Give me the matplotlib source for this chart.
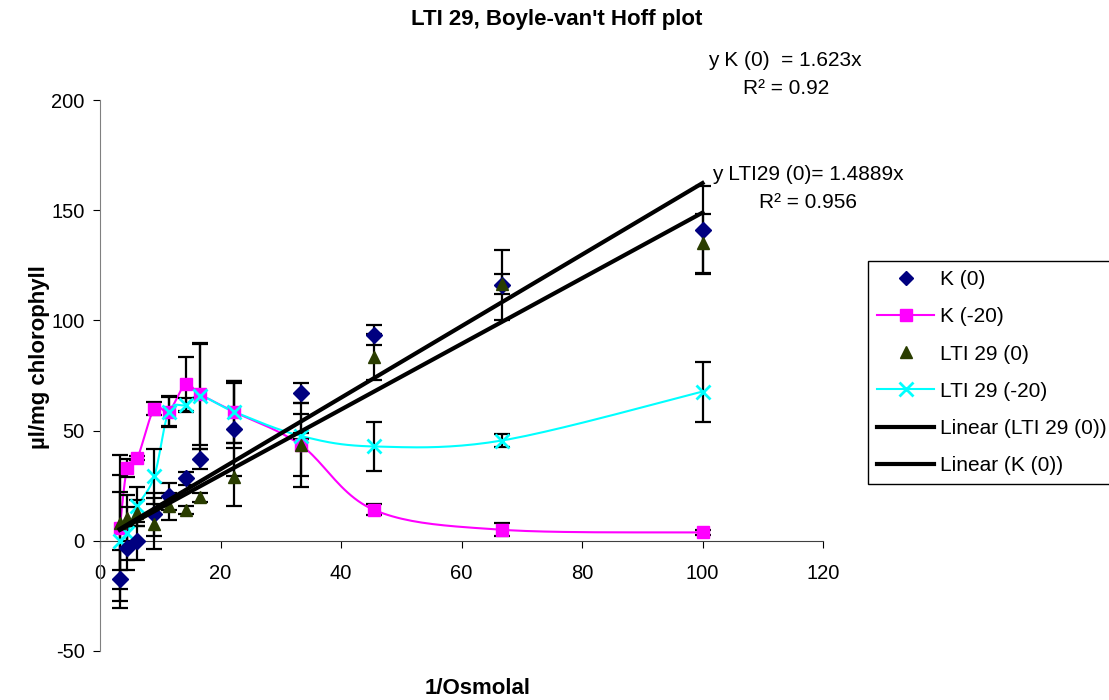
import numpy as np
import matplotlib
matplotlib.use("Agg")
import matplotlib.pyplot as plt
from matplotlib.lines import Line2D

plt.rcParams['font.family'] = ['Liberation Sans', 'DejaVu Sans']
plt.rcParams['axes.unicode_minus'] = False

# 1/osmolal values shared by all series
x = [3.3, 4.5, 6.2, 9.0, 11.4, 14.2, 16.6, 22.2, 33.3, 45.5, 66.7, 100.0]

k0 = [-17.4, -3.3, 0.0, 12.0, 20.1, 28.4, 37.0, 50.6, 67.0, 93.5, 116.0, 141.0]
k0_err = [13, 10, 8.6, 9.6, 6, 3, 4.5, 21, 4.5, 4.5, 16, 20]

k20 = [5.9, 33.0, 37.5, 60.0, 58.6, 71.0, 66.5, 58.6, 43.5, 14.0, 5.0, 3.8]
k20_err = [33, 4, 1, 3, 6.6, 12.6, 23, 14, 19, 2.5, 3, 1]

lti0 = [8.3, 10.3, 12.5, 7.7, 15.6, 14.0, 19.8, 28.9, 43.5, 83.4, 116.5, 135.0]
lti0_err = [21.7, 10.6, 6, 11.5, 6, 2, 2, 13.3, 14, 10.5, 4.5, 13.5]

lti20 = [0.0, 3.5, 15.6, 29.2, 58.6, 61.7, 65.8, 58.6, 47.6, 42.8, 45.5, 67.7]
lti20_err = [22, 12, 9, 12.4, 7, 3, 24, 14, 1.5, 11, 3, 13.6]

# trendlines forced through the origin
slope_k0 = 1.623
r2_k0 = 0.92
slope_lti0 = 1.4889
r2_lti0 = 0.956


def smooth(ax, xs, ys, n=24):
    # Catmull-Rom curve built in screen space, mapped back to data
    pts = ax.transData.transform(np.column_stack([xs, ys]))
    out = [pts[0]]
    for i in range(len(pts) - 1):
        p0 = pts[i - 1] if i > 0 else pts[i]
        p1, p2 = pts[i], pts[i + 1]
        p3 = pts[i + 2] if i + 2 < len(pts) else pts[i + 1]
        c1 = p1 + (p2 - p0) / 6
        c2 = p2 - (p3 - p1) / 6
        t = np.linspace(0, 1, n)[1:, None]
        seg = ((1 - t) ** 3 * p1 + 3 * (1 - t) ** 2 * t * c1
               + 3 * (1 - t) * t ** 2 * c2 + t ** 3 * p2)
        out.extend(seg)
    res = ax.transData.inverted().transform(np.array(out))
    return res[:, 0], res[:, 1]


fig = plt.figure(figsize=(11.09, 7.0), dpi=100)
ax = fig.add_axes([100 / 1109, 1 - 651 / 700, 723 / 1109, 551 / 700])
ax.set_xlim(0, 120)
ax.set_ylim(-50, 200)

navy = '#000080'
magenta = '#ff00ff'
olive = '#2a3d00'
cyan = '#00ffff'

eb = dict(fmt='none', ecolor='black', elinewidth=1.6, capsize=6, capthick=1.6)

# K (-20)
sx, sy = smooth(ax, x, k20)
ax.plot(sx, sy, color=magenta, lw=1.5, zorder=2)
ax.errorbar(x, k20, yerr=k20_err, zorder=3, **eb)
ax.plot(x, k20, 's', color=magenta, ms=8, zorder=4)

# LTI 29 (-20)
sx, sy = smooth(ax, x, lti20)
ax.plot(sx, sy, color=cyan, lw=1.5, zorder=2)
ax.errorbar(x, lti20, yerr=lti20_err, zorder=3, **eb)
ax.plot(x, lti20, 'x', color=cyan, ms=10, mew=2, zorder=4)

# K (0)
ax.errorbar(x, k0, yerr=k0_err, zorder=3, **eb)
ax.plot(x, k0, 'D', color=navy, ms=8, zorder=4)

# LTI 29 (0)
ax.errorbar(x, lti0, yerr=lti0_err, zorder=3, **eb)
ax.plot(x, lti0, '^', color=olive, ms=9, zorder=4)

# linear trendlines
xt = np.array([min(x), max(x)])
ax.plot(xt, slope_lti0 * xt, color='black', lw=3, zorder=5)
ax.plot(xt, slope_k0 * xt, color='black', lw=3, zorder=5)

# axes styling
for side in ['top', 'right']:
    ax.spines[side].set_visible(False)
ax.spines['bottom'].set_position(('data', 0))
ax.spines['left'].set_color('#808080')
ax.spines['bottom'].set_color('#404040')
ax.set_xticks([0, 20, 40, 60, 80, 100, 120])
ax.set_yticks([-50, 0, 50, 100, 150, 200])
ax.tick_params(axis='x', direction='out', length=5, labelsize=14.5, pad=12)
ax.tick_params(axis='y', direction='out', length=5, labelsize=14.5, pad=6)

fig.text(557 / 1109, 1 - 20 / 700, "LTI 29, Boyle-van't Hoff plot",
         ha='center', va='center', fontsize=16, fontweight='bold')
fig.text(40 / 1109, 1 - 357 / 700, 'µl/mg chlorophyll', rotation=90,
         ha='center', va='center', fontsize=16, fontweight='bold')
fig.text(478 / 1109, 1 - 689 / 700, '1/Osmolal',
         ha='center', va='center', fontsize=16, fontweight='bold')

fig.text(785 / 1109, 1 - 61 / 700, f'y K (0)  = {slope_k0}x',
         ha='center', va='center', fontsize=15)
fig.text(786 / 1109, 1 - 89 / 700, f'R² = {r2_k0}',
         ha='center', va='center', fontsize=15)
fig.text(808 / 1109, 1 - 175 / 700, f'y LTI29 (0)= {slope_lti0}x',
         ha='center', va='center', fontsize=15)
fig.text(808 / 1109, 1 - 203 / 700, f'R² = {r2_lti0}',
         ha='center', va='center', fontsize=15)

handles = [
    Line2D([], [], ls='none', marker='D', color=navy, ms=7),
    Line2D([], [], color=magenta, lw=1.5, marker='s', ms=8),
    Line2D([], [], ls='none', marker='^', color=olive, ms=8),
    Line2D([], [], color=cyan, lw=1.5, marker='x', ms=10, mew=2),
    Line2D([], [], color='black', lw=3),
    Line2D([], [], color='black', lw=3),
]
labels = ['K (0)', 'K (-20)', 'LTI 29 (0)', 'LTI 29 (-20)',
          'Linear (LTI 29 (0))', 'Linear (K (0))']
leg = fig.legend(handles, labels, loc='upper left',
                 bbox_to_anchor=(868 / 1109, 1 - 261 / 700),
                 bbox_transform=fig.transFigure, borderaxespad=0,
                 fontsize=15, labelspacing=0.87, handlelength=2.7,
                 handletextpad=0.3, borderpad=0.45, fancybox=False,
                 edgecolor='black', framealpha=1)
leg.get_frame().set_linewidth(1.0)

fig.savefig('out.png', dpi=100)
